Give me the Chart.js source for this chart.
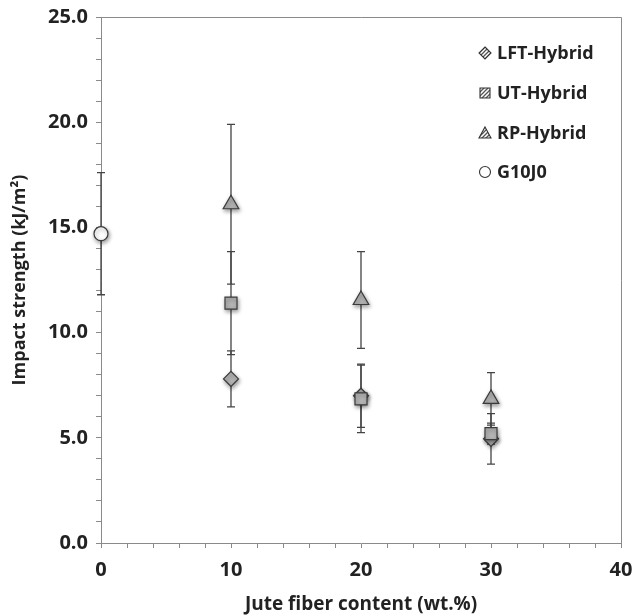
<!DOCTYPE html>
<html lang="en">
<head>
<meta charset="UTF-8">
<title>Impact strength vs jute fiber content</title>
<script src="https://cdn.jsdelivr.net/npm/chart.js"></script>
<style>
  html, body { margin: 0; padding: 0; background: #fff; }
  canvas { display: block; }
</style>
</head>
<body>
<canvas id="impactChart" width="636" height="616"></canvas>
<script>
const seriesNames = ['LFT-Hybrid', 'UT-Hybrid', 'RP-Hybrid', 'G10J0'];
const hybridContent = [10, 20, 30];
const lftStrength = [7.8, 7.0, 4.95];
const lftError = [1.33, 1.5, 1.2];
const utStrength = [11.4, 6.85, 5.2];
const utError = [2.45, 1.6, 0.5];
const rpStrength = [16.1, 11.55, 6.85];
const rpError = [3.8, 2.3, 1.25];
const g10Content = [0];
const g10Strength = [14.7];
const g10Error = [2.9];
const xTicks = [0, 10, 20, 30, 40];
const yTicks = [0, 5, 10, 15, 20, 25];

const FONT = "'Open Sans', 'DejaVu Sans', sans-serif";
const markerFill = '#b4b4b4';
const markerEdge = '#3a3a3a';

function toPoints(xs, ys) {
  return xs.map((x, i) => ({ x: x, y: ys[i] }));
}

// hatched fill for the legend symbols
function hatch() {
  const c = document.createElement('canvas');
  c.width = 4; c.height = 4;
  const g = c.getContext('2d');
  g.fillStyle = '#ffffff';
  g.fillRect(0, 0, 4, 4);
  g.strokeStyle = '#555';
  g.lineWidth = 1.3;
  g.beginPath();
  g.moveTo(0, 4); g.lineTo(4, 0);
  g.moveTo(-1, 1); g.lineTo(1, -1);
  g.moveTo(3, 5); g.lineTo(5, 3);
  g.stroke();
  return g.createPattern(c, 'repeat');
}

// vertical error bars with caps
const errorBars = {
  id: 'errorBars',
  beforeDatasetsDraw(chart) {
    const { ctx, scales: { x, y } } = chart;
    ctx.save();
    ctx.strokeStyle = '#444';
    ctx.lineWidth = 1.3;
    chart.data.datasets.forEach(ds => {
      ds.data.forEach((p, i) => {
        const e = ds.errors[i];
        const px = x.getPixelForValue(p.x);
        const top = y.getPixelForValue(p.y + e);
        const bot = y.getPixelForValue(p.y - e);
        ctx.beginPath();
        ctx.moveTo(px, top); ctx.lineTo(px, bot);
        ctx.moveTo(px - 4, top); ctx.lineTo(px + 4, top);
        ctx.moveTo(px - 4, bot); ctx.lineTo(px + 4, bot);
        ctx.stroke();
      });
    });
    ctx.restore();
  }
};

// soft shadow under the markers
const markerShadow = {
  id: 'markerShadow',
  beforeDatasetDraw(chart) {
    const ctx = chart.ctx;
    ctx.save();
    ctx.shadowColor = 'rgba(0,0,0,0.4)';
    ctx.shadowBlur = 4;
    ctx.shadowOffsetX = 1;
    ctx.shadowOffsetY = 2;
  },
  afterDatasetDraw(chart) {
    chart.ctx.restore();
  }
};

// top and right frame of the plot box
const frame = {
  id: 'frame',
  afterDraw(chart) {
    const { ctx, chartArea: a } = chart;
    ctx.save();
    ctx.strokeStyle = '#8a8a8a';
    ctx.lineWidth = 1;
    ctx.beginPath();
    ctx.moveTo(a.left, a.top + 0.5);
    ctx.lineTo(a.right + 0.5, a.top + 0.5);
    ctx.lineTo(a.right + 0.5, a.bottom);
    ctx.stroke();
    ctx.restore();
  }
};

// legend in the upper right corner
const cornerLegend = {
  id: 'cornerLegend',
  afterDraw(chart) {
    const ctx = chart.ctx;
    const pat = hatch();
    const mx = 485, tx = 497, rows = [53, 93, 133, 172];
    ctx.save();
    ctx.font = 'bold 18px ' + FONT;
    ctx.textBaseline = 'middle';
    seriesNames.forEach((name, i) => {
      const cy = rows[i];
      ctx.beginPath();
      if (i === 0) {
        ctx.moveTo(mx, cy - 6); ctx.lineTo(mx + 6, cy); ctx.lineTo(mx, cy + 6); ctx.lineTo(mx - 6, cy);
        ctx.closePath();
      } else if (i === 1) {
        ctx.rect(mx - 5, cy - 5, 10, 10);
      } else if (i === 2) {
        ctx.moveTo(mx, cy - 6); ctx.lineTo(mx + 6, cy + 5); ctx.lineTo(mx - 6, cy + 5);
        ctx.closePath();
      } else {
        ctx.arc(mx, cy, 5.5, 0, Math.PI * 2);
      }
      ctx.fillStyle = i === 3 ? '#fff' : pat;
      ctx.fill();
      ctx.strokeStyle = '#333';
      ctx.lineWidth = 1.1;
      ctx.stroke();
      ctx.fillStyle = '#222';
      ctx.fillText(name, tx, cy + 1);
    });
    ctx.restore();
  }
};

new Chart(document.getElementById('impactChart'), {
  type: 'scatter',
  data: {
    datasets: [
      {
        label: seriesNames[1], data: toPoints(hybridContent, utStrength), errors: utError,
        pointStyle: 'rect', pointRadius: 8.5, order: 0
      },
      {
        label: seriesNames[2], data: toPoints(hybridContent, rpStrength), errors: rpError,
        pointStyle: 'triangle', pointRadius: 9, order: 1
      },
      {
        label: seriesNames[0], data: toPoints(hybridContent, lftStrength), errors: lftError,
        pointStyle: 'rectRot', pointRadius: 7.5, order: 2
      },
      {
        label: seriesNames[3], data: toPoints(g10Content, g10Strength), errors: g10Error,
        pointStyle: 'circle', pointRadius: 7, backgroundColor: '#ffffff', order: 3
      }
    ].map(ds => Object.assign({
      backgroundColor: markerFill,
      borderColor: markerEdge,
      borderWidth: 1.2,
      clip: false,
      pointHoverRadius: ds.pointRadius
    }, ds))
  },
  options: {
    responsive: false,
    animation: false,
    devicePixelRatio: 1,
    layout: { padding: { top: 17, right: 15, left: 0, bottom: 0 } },
    plugins: {
      legend: { display: false },
      tooltip: { enabled: false }
    },
    scales: {
      x: {
        type: 'linear',
        min: 0, max: 40,
        afterFit: s => { s.height = 73; s.paddingLeft = 0; s.paddingRight = 0; },
        border: { color: '#8a8a8a', width: 1 },
        grid: { drawOnChartArea: false, drawTicks: true, tickLength: 5, color: '#8a8a8a' },
        ticks: {
          stepSize: 2, autoSkip: false, maxRotation: 0, padding: 10,
          color: '#222', font: { family: FONT, size: 20, weight: 'bold' },
          callback: v => xTicks.includes(v) ? String(v) : ''
        },
        title: {
          display: true, text: 'Jute fiber content (wt.%)', color: '#222',
          font: { family: FONT, size: 19, weight: 'bold' },
          padding: { top: 4, bottom: 0 }
        }
      },
      y: {
        type: 'linear',
        min: 0, max: 25,
        afterFit: s => { s.width = 101; s.paddingTop = 0; s.paddingBottom = 0; },
        border: { color: '#8a8a8a', width: 1 },
        grid: { drawOnChartArea: false, drawTicks: true, tickLength: 5, color: '#8a8a8a' },
        ticks: {
          stepSize: 1, autoSkip: false, padding: 8,
          color: '#222', font: { family: FONT, size: 20, weight: 'bold' },
          callback: v => yTicks.includes(v) ? v.toFixed(1) : ''
        },
        title: {
          display: true, text: 'Impact strength (kJ/m²)', color: '#222',
          font: { family: FONT, size: 18, weight: 'bold' },
          padding: { top: 9, bottom: 0 }
        }
      }
    }
  },
  plugins: [errorBars, markerShadow, frame, cornerLegend]
});
</script>
</body>
</html>
